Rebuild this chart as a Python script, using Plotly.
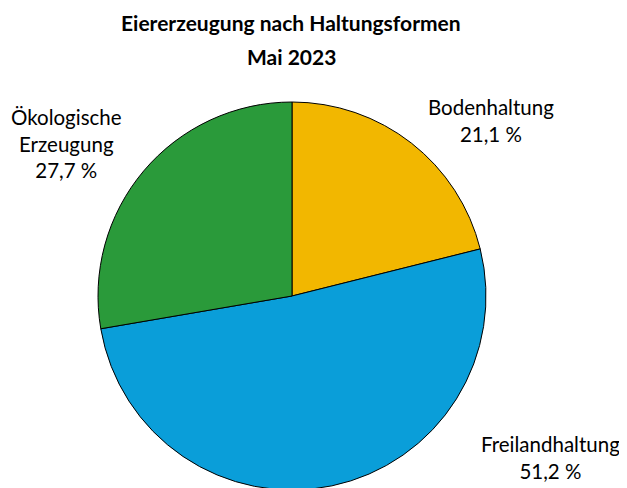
import plotly.graph_objects as go

categories = ["Bodenhaltung", "Freilandhaltung", "Ökologische<br>Erzeugung"]
shares = [21.1, 51.2, 27.7]
colors = ["#F2B700", "#0A9ED9", "#2A9A3A"]
label_pos = [(483, 112), (542, 449), (58, 135)]

W, H = 627, 488
FONT = "Lato, Open Sans, sans-serif"

fig = go.Figure()
fig.add_trace(go.Pie(
    labels=categories, values=shares, sort=False, direction="clockwise",
    rotation=0, textinfo="none", hoverinfo="label+percent",
    marker=dict(colors=colors, line=dict(color="black", width=1)),
    domain=dict(x=[90 / W, 478 / W], y=[(H - 482) / H, (H - 94) / H]),
    showlegend=False,
))

for cat, val, (px, py) in zip(categories, shares, label_pos):
    txt = f"{cat}<br>{val:.1f} %".replace(".", ",")
    fig.add_annotation(x=px / W, y=1 - py / H, xref="paper", yref="paper",
                       text=txt, showarrow=False, xanchor="center", yanchor="middle",
                       font=dict(family=FONT, size=20.5, color="black"), align="center")

fig.add_annotation(x=283 / W, y=1 - 15 / H, xref="paper", yref="paper",
                   text="<b>Eiererzeugung nach Haltungsformen</b>", showarrow=False,
                   font=dict(family=FONT, size=21, color="black"), yanchor="middle")
fig.add_annotation(x=283 / W, y=1 - 49 / H, xref="paper", yref="paper",
                   text="<b>Mai 2023</b>", showarrow=False,
                   font=dict(family=FONT, size=21, color="black"), yanchor="middle")

fig.update_layout(width=W, height=H, margin=dict(l=0, r=0, t=0, b=0),
                  paper_bgcolor="white", plot_bgcolor="white")
fig.write_html("out.html")
